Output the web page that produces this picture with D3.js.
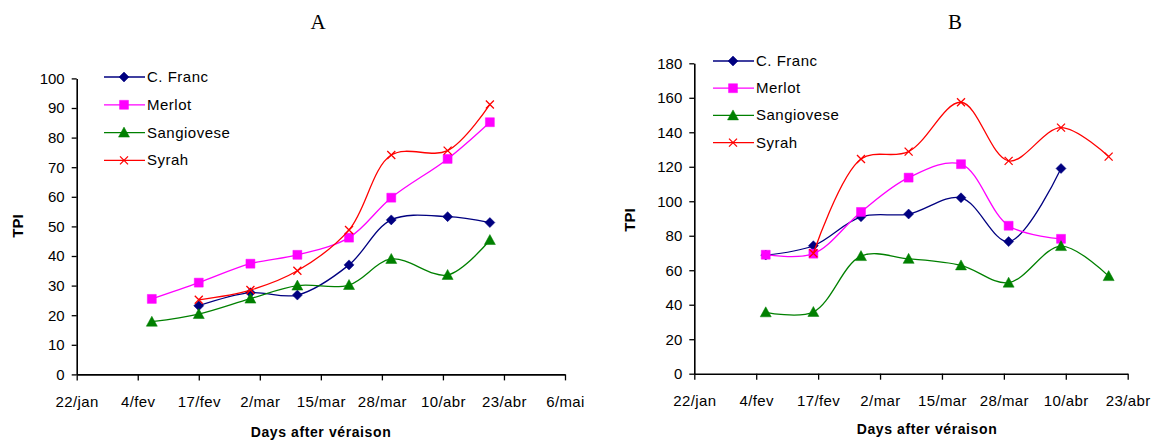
<!DOCTYPE html>
<html>
<head>
<meta charset="utf-8">
<script src="https://cdn.jsdelivr.net/npm/d3@7"></script>
<style>
body { margin: 0; background: #fff; }
svg { display: block; font-family: "Liberation Sans", Arial, sans-serif; }
</style>
</head>
<body>
<svg id="chart"></svg>
<script>
var width = 1157, height = 440;

// series names + colours (Excel default-ish)
var varieties = ["C. Franc", "Merlot", "Sangiovese", "Syrah"];
var colorsList = ["#000080", "#ff00ff", "#008000", "#ff0000"];
var markersList = ["diamond", "square", "triangle", "cross"];

// panel A
var datesA = ["2007-02-07", "2007-02-17", "2007-02-28", "2007-03-10", "2007-03-21", "2007-03-30", "2007-04-11", "2007-04-20"];
var cfrancA = [null, 23.2, 27.6, 26.8, 37, 52.2, 53.3, 51.3];
var merlotA = [25.5, 31, 37.4, 40.4, 46.2, 59.7, 72.8, 85.2];
var sangioveseA = [17.8, 20.4, 25.6, 30, 30.2, 39, 33.6, 45.4];
var syrahA = [null, 25.2, 28.5, 35, 48.8, 74.1, 75.6, 91.2];
var tickDatesA = ["2007-01-22", "2007-02-04", "2007-02-17", "2007-03-02", "2007-03-15", "2007-03-28", "2007-04-10", "2007-04-23", "2007-05-06"];
var tickLabelsA = ["22/jan", "4/fev", "17/fev", "2/mar", "15/mar", "28/mar", "10/abr", "23/abr", "6/mai"];
var yTicksA = [0, 10, 20, 30, 40, 50, 60, 70, 80, 90, 100];

// panel B
var datesB = ["2007-02-06", "2007-02-16", "2007-02-26", "2007-03-08", "2007-03-19", "2007-03-29", "2007-04-09", "2007-04-19"];
var cfrancB = [68.8, 74.2, 91, 92.6, 102, 76.6, 119, null];
var merlotB = [69, 69.6, 93.8, 113.7, 121.5, 85.8, 78.2, null];
var sangioveseB = [35.6, 35.8, 68.2, 66.6, 62.8, 52.8, 74, 56.6];
var syrahB = [null, 69.8, 124.5, 128.8, 157.4, 123.4, 142.7, 125.9];
var tickDatesB = ["2007-01-22", "2007-02-04", "2007-02-17", "2007-03-02", "2007-03-15", "2007-03-28", "2007-04-10", "2007-04-23"];
var tickLabelsB = ["22/jan", "4/fev", "17/fev", "2/mar", "15/mar", "28/mar", "10/abr", "23/abr"];
var yTicksB = [0, 20, 40, 60, 80, 100, 120, 140, 160, 180];

var parse = d3.timeParse("%Y-%m-%d");

var svg = d3.select("#chart").attr("width", width).attr("height", height);

function markerPath(type) {
  if (type == "diamond") return "M0,-5L5,0L0,5L-5,0Z";
  if (type == "square") return d3.symbol(d3.symbolSquare, 80)();
  if (type == "triangle") return "M0,-5.5L5.5,4.5L-5.5,4.5Z";
  return "M-4,-4L4,4M-4,4L4,-4";
}

function drawMarker(g, type, color, x, y) {
  var p = g.append("path")
    .attr("d", markerPath(type))
    .attr("transform", `translate(${x},${y})`);
  if (type == "cross") p.attr("fill", "none").attr("stroke", color).attr("stroke-width", 1.3);
  else p.attr("fill", color).attr("stroke", color).attr("stroke-width", 0.5);
}

function panel(cfg) {
  var g = svg.append("g");

  var x = d3.scaleTime()
    .domain([parse(cfg.tickDates[0]), parse(cfg.tickDates[cfg.tickDates.length - 1])])
    .range([cfg.left, cfg.right]);
  var y = d3.scaleLinear()
    .domain([0, cfg.yMax])
    .range([cfg.bottom, cfg.top]);

  var tickMap = new Map(cfg.tickDates.map((d, i) => [+parse(d), cfg.tickLabels[i]]));

  // x axis
  g.append("g")
    .attr("transform", `translate(0,${cfg.bottom})`)
    .call(d3.axisBottom(x)
      .tickValues(cfg.tickDates.map(parse))
      .tickFormat(d => tickMap.get(+d))
      .tickSize(6)
      .tickSizeOuter(0)
      .tickPadding(16))
    .call(a => a.select(".domain").attr("stroke-width", 1.6))
    .call(a => a.selectAll(".tick line").attr("stroke-width", 1.3))
    .call(a => a.selectAll("text").attr("font-size", 15).attr("letter-spacing", 0.4).attr("fill", "#000"));

  // y axis
  g.append("g")
    .attr("transform", `translate(${cfg.left},0)`)
    .call(d3.axisLeft(y)
      .tickValues(cfg.yTicks)
      .tickSize(5)
      .tickSizeOuter(0)
      .tickPadding(7))
    .call(a => a.select(".domain").attr("stroke-width", 1.6))
    .call(a => a.selectAll(".tick line").attr("stroke-width", 1.3))
    .call(a => a.selectAll("text").attr("font-size", 15).attr("fill", "#000"));

  // series
  var line = d3.line()
    .defined(d => d.v != null)
    .x(d => x(d.date))
    .y(d => y(d.v))
    .curve(d3.curveCatmullRom.alpha(0.5));

  cfg.series.forEach(function(vals, i) {
    var pts = vals.map((v, j) => ({date: parse(cfg.dates[j]), v: v}));
    g.append("path")
      .datum(pts)
      .attr("fill", "none")
      .attr("stroke", colorsList[i])
      .attr("stroke-width", 1.3)
      .attr("d", line);
    pts.filter(d => d.v != null).forEach(function(d) {
      drawMarker(g, markersList[i], colorsList[i], x(d.date), y(d.v));
    });
  });

  // legend
  varieties.forEach(function(name, i) {
    var ly = cfg.legY + i * cfg.legStep;
    g.append("line")
      .attr("x1", cfg.legX).attr("x2", cfg.legX + 41)
      .attr("y1", ly).attr("y2", ly)
      .attr("stroke", colorsList[i]).attr("stroke-width", 1.3);
    drawMarker(g, markersList[i], colorsList[i], cfg.legX + 20, ly);
    g.append("text")
      .attr("x", cfg.legX + 43).attr("y", ly + 5)
      .attr("font-size", 15).attr("letter-spacing", 0.5)
      .text(name);
  });

  // titles
  g.append("text")
    .attr("x", cfg.titleX).attr("y", 29)
    .attr("text-anchor", "middle")
    .attr("font-family", "'Liberation Serif', 'Times New Roman', serif")
    .attr("font-size", 21)
    .text(cfg.title);

  g.append("text")
    .attr("transform", `translate(${cfg.yLabX},${cfg.yLabY}) rotate(-90)`)
    .attr("text-anchor", "middle")
    .attr("font-weight", "bold")
    .attr("font-size", 15)
    .text("TPI");

  g.append("text")
    .attr("x", cfg.xLabX).attr("y", cfg.xLabY)
    .attr("text-anchor", "middle")
    .attr("font-weight", "bold")
    .attr("font-size", 14)
    .attr("letter-spacing", 0.6)
    .text("Days after véraison");
}

panel({
  title: "A", titleX: 318,
  left: 76.7, right: 565, top: 78.4, bottom: 374.4, yMax: 100,
  dates: datesA, series: [cfrancA, merlotA, sangioveseA, syrahA],
  tickDates: tickDatesA, tickLabels: tickLabelsA, yTicks: yTicksA,
  legX: 104, legY: 77, legStep: 27.8,
  yLabX: 23, yLabY: 226, xLabX: 321, xLabY: 437
});

panel({
  title: "B", titleX: 955,
  left: 694.3, right: 1127.7, top: 63.3, bottom: 373.7, yMax: 180,
  dates: datesB, series: [cfrancB, merlotB, sangioveseB, syrahB],
  tickDates: tickDatesB, tickLabels: tickLabelsB, yTicks: yTicksB,
  legX: 713, legY: 61, legStep: 27.2,
  yLabX: 635, yLabY: 220, xLabX: 927, xLabY: 434
});
</script>
</body>
</html>
